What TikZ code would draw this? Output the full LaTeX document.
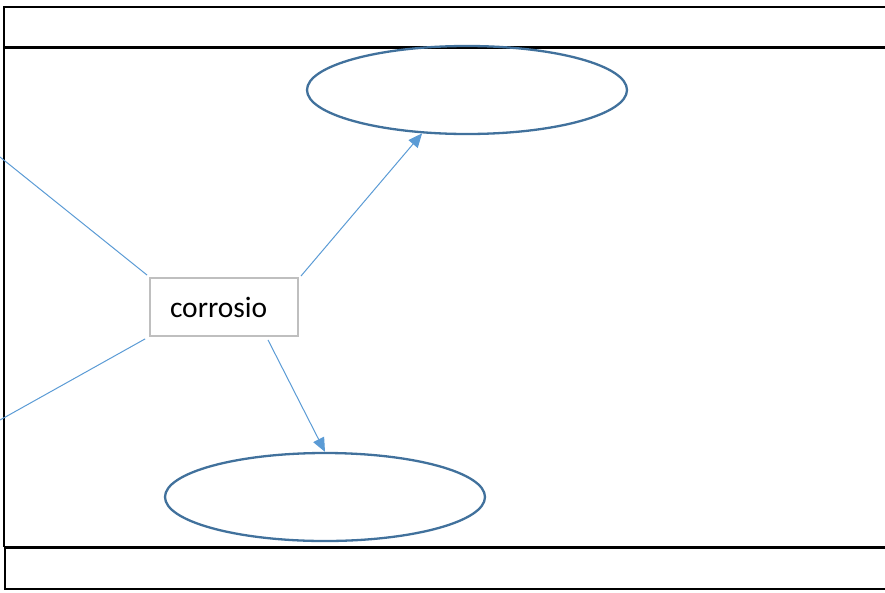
\documentclass[tikz,border=0pt]{standalone}
\usepackage{fontspec}
\setmainfont{Carlito}
\usetikzlibrary{shapes.geometric,arrows.meta}
\definecolor{linkblue}{HTML}{5B9BD5}
\definecolor{ellblue}{HTML}{41719C}
\definecolor{boxgray}{HTML}{BFBFBF}
\tikzset{
  frameline/.style={draw=black,line width=2pt},
  framethick/.style={draw=black,line width=3pt},
  oval/.style={ellipse,draw=ellblue,line width=2.3pt,minimum width=320pt,minimum height=88pt,inner sep=0pt},
  conceptbox/.style={draw=boxgray,line width=1.8pt,minimum width=148pt,minimum height=58pt,inner xsep=20pt,text width=108pt,align=left,font=\fontsize{29.5}{32}\selectfont},
  link/.style={draw=linkblue,line width=1pt},
  arrowlink/.style={link,-{Triangle[length=14pt,width=12pt]}}
}
\begin{document}
\begin{tikzpicture}[x=1pt,y=-1pt]
\useasboundingbox (0,0) rectangle (885,592);
% frame
\draw[frameline] (885,7) -- (4,7) -- (4,547);
\draw[framethick] (4,47) -- (885,47);
\draw[framethick] (4,547) -- (885,547);
\draw[frameline] (5,547) -- (5,589) -- (885,589);
% nodes
\node[oval] (e1) at (467,90) {};
\node[oval] (e2) at (325,497) {};
\node[conceptbox] (c) at (224,307) {corrosio};
\coordinate (l1) at (0,157);
\coordinate (l2) at (0,420);
% connectors
\draw[link] ([xshift=-2pt,yshift=2pt]c.north west) -- (l1);
\draw[link] ([xshift=-4pt,yshift=-2pt]c.south west) -- (l2);
\draw[arrowlink] ([xshift=2pt,yshift=1pt]c.north east) -- (e1.224);
\draw[arrowlink] ([xshift=44pt,yshift=-3pt]c.south) -- (e2.north);
\end{tikzpicture}
\end{document}
